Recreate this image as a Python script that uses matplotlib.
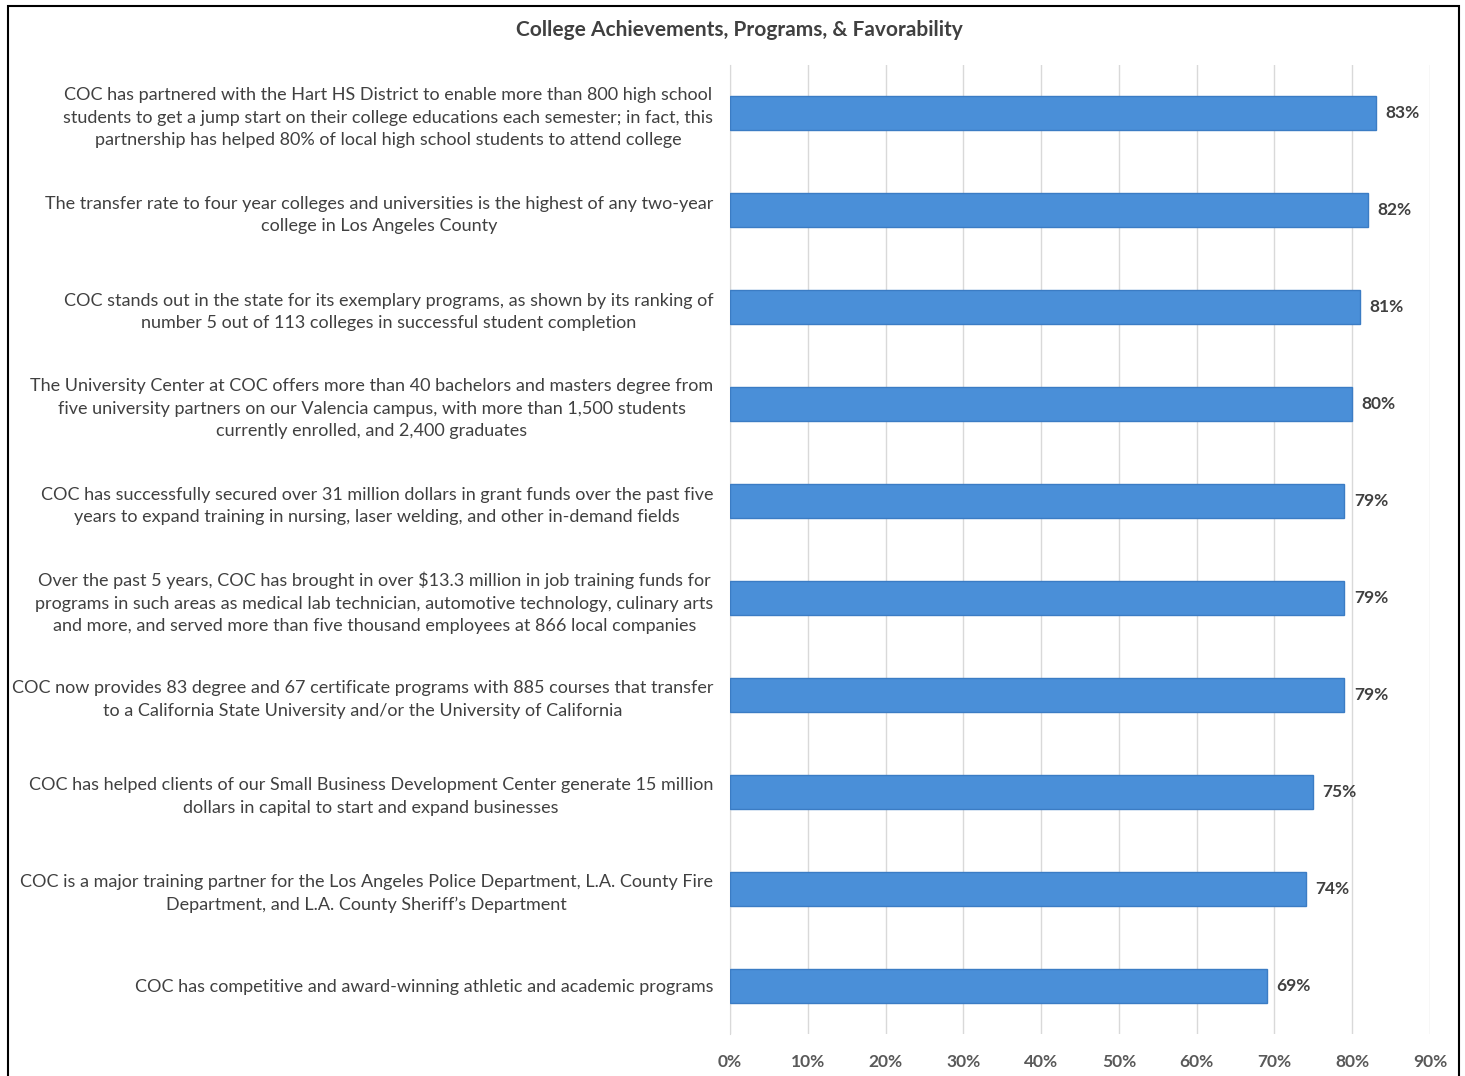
import matplotlib
matplotlib.use("Agg")
from matplotlib import pyplot as plt
from matplotlib.patches import Rectangle

# data, top to bottom as shown in the chart
statements = [
    "COC has partnered with the Hart HS District to enable more than 800 high school\n"
    "students to get a jump start on their college educations each semester; in fact, this\n"
    "partnership has helped 80% of local high school students to attend college",
    "The transfer rate to four year colleges and universities is the highest of any two-year\n"
    "college in Los Angeles County",
    "COC stands out in the state for its exemplary programs, as shown by its ranking of\n"
    "number 5 out of 113 colleges in successful student completion",
    "The University Center at COC offers more than 40 bachelors and masters degree from\n"
    "five university partners on our Valencia campus, with more than 1,500 students\n"
    "currently enrolled, and 2,400 graduates",
    "COC has successfully secured over 31 million dollars in grant funds over the past five\n"
    "years to expand training in nursing, laser welding, and other in-demand fields",
    "Over the past 5 years, COC has brought in over $13.3 million in job training funds for\n"
    "programs in such areas as medical lab technician, automotive technology, culinary arts\n"
    "and more, and served more than five thousand employees at 866 local companies",
    "COC now provides 83 degree and 67 certificate programs with 885 courses that transfer\n"
    "to a California State University and/or the University of California",
    "COC has helped clients of our Small Business Development Center generate 15 million\n"
    "dollars in capital to start and expand businesses",
    "COC is a major training partner for the Los Angeles Police Department, L.A. County Fire\n"
    "Department, and L.A. County Sheriff\u2019s Department",
    "COC has competitive and award-winning athletic and academic programs",
]
favorable = [83, 82, 81, 80, 79, 79, 79, 75, 74, 69]
xticks = [0, 10, 20, 30, 40, 50, 60, 70, 80, 90]

plt.rcParams['font.family'] = ['Lato', 'DejaVu Sans']
grey = '#404040'

fig = plt.figure(figsize=(14.65, 10.76), dpi=100)
ax = fig.add_axes([0.4983, 0.0386, 0.4778, 0.9014])

pos = list(range(len(statements)))
ax.barh(pos, favorable, height=0.35, color='#4a8fd8', edgecolor='#3b7cc4',
        linewidth=1, zorder=3)

for p, v in zip(pos, favorable):
    ax.text(v + 1.2, p, f"{v}%", va='center', ha='left', fontsize=12.5,
            fontweight='bold', color=grey)

ax.set_ylim(len(statements) - 0.5, -0.5)
ax.set_xlim(0, 90)
ax.set_xticks(xticks)
ax.set_xticklabels([f"{t}%" for t in xticks], fontsize=12.5,
                   fontweight='bold', color='#595959')
ax.set_yticks(pos)
ax.set_yticklabels(statements, fontsize=13, color=grey,
                   multialignment='center', linespacing=1.5)
ax.tick_params(axis='both', length=0)
ax.tick_params(axis='y', pad=12)
ax.tick_params(axis='x', pad=14)

ax.grid(axis='x', color='#d9d9d9', linewidth=1, zorder=0)
for side in ['top', 'right', 'bottom']:
    ax.spines[side].set_visible(False)
ax.spines['left'].set_color('#d9d9d9')

fig.text(0.505, 0.972, "College Achievements, Programs, & Favorability",
         ha='center', va='center', fontsize=15, fontweight='bold', color=grey)

fig.patches.append(Rectangle((0.0055, -0.01), 0.9905, 1.0045,
                             transform=fig.transFigure, fill=False,
                             edgecolor='black', linewidth=1.5))

fig.savefig("out.png", dpi=100)
